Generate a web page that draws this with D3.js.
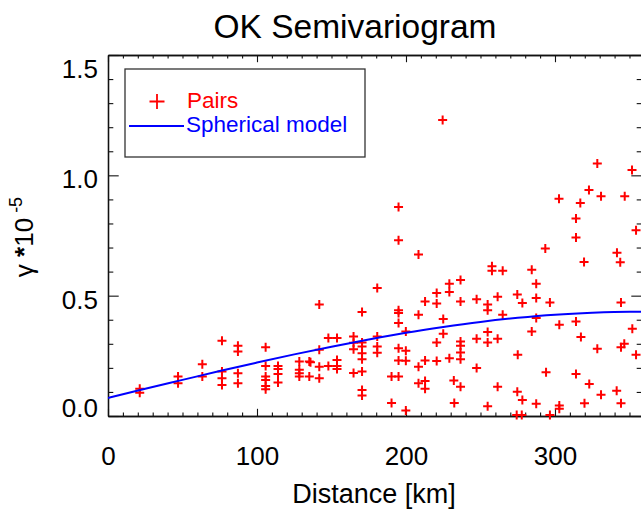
<!DOCTYPE html>
<html>
<head>
<meta charset="utf-8">
<script src="https://cdn.jsdelivr.net/npm/d3@7"></script>
<style>
  html, body { margin: 0; padding: 0; background: #fff; }
  svg { display: block; }
  text { font-family: "Liberation Sans", Arial, Helvetica, sans-serif; }
</style>
</head>
<body>
<svg id="chart" width="641" height="509"></svg>
<script>
// ---------------- data ----------------
const chartTitle = "OK Semivariogram";
const xTitle = "Distance [km]";
const legendLabels = ["Pairs", "Spherical model"];

const xMajorTicks = [0, 100, 200, 300];
const xTickLabels = ["0", "100", "200", "300"];
const xMinorTicks = [10, 20, 30, 40, 50, 60, 70, 80, 90, 110, 120, 130, 140, 150, 160, 170, 180, 190,
                     210, 220, 230, 240, 250, 260, 270, 280, 290, 310, 320, 330, 340, 350];
const yMajorTicks = [0, 0.5, 1.0, 1.5];
const yTickLabels = ["0.0", "0.5", "1.0", "1.5"];
const yMinorTicks = [0.1, 0.2, 0.3, 0.4, 0.6, 0.7, 0.8, 0.9, 1.1, 1.2, 1.3, 1.4];

// Semivariogram pairs (distance km, gamma * 1e5)
const pairDist = [
  21.3, 21.3, 47.0, 47.0, 63.3, 63.3, 76.5, 76.5, 76.5, 76.5,
  87.2, 87.2, 87.2, 87.2, 105.8, 105.8, 105.8, 105.8, 105.8, 105.8,
  114.1, 114.1, 114.1, 114.1, 128.4, 128.4, 128.4, 128.4, 135.1, 135.9,
  135.1, 141.8, 141.8, 141.8, 141.8, 147.9, 147.9, 153.7, 153.7, 153.7,
  153.7, 164.8, 164.8, 164.8, 164.8, 170.5, 170.5, 170.5, 170.5, 170.5,
  170.5, 170.5, 170.5, 180.7, 180.7, 180.7, 180.7, 190.3, 190.3, 195.0,
  195.0, 195.0, 195.0, 195.0, 195.0, 195.0, 195.0, 199.9, 199.9, 199.9,
  199.9, 208.4, 208.4, 208.4, 208.4, 212.8, 212.8, 212.8, 212.8, 220.6,
  220.6, 220.6, 220.6, 224.6, 225.0, 225.0, 229.1, 229.1, 229.1, 232.1,
  232.4, 236.6, 236.6, 236.6, 236.6, 236.6, 236.6, 236.6, 247.4, 247.4,
  247.4, 254.8, 254.8, 254.8, 254.8, 254.8, 257.7, 257.7, 261.5, 261.5,
  261.5, 264.9, 264.9, 274.7, 275.0, 274.7, 274.3, 277.7, 278.1, 278.1,
  284.4, 284.4, 287.4, 287.4, 287.4, 287.4, 293.5, 294.0, 296.6, 296.6,
  302.7, 302.9, 302.9, 302.9, 314.1, 314.1, 314.1, 314.1, 317.0, 317.4,
  319.5, 319.8, 322.8, 323.0, 328.4, 328.4, 330.9, 330.9, 341.6, 341.4,
  343.8, 344.3, 344.3, 344.3, 346.5, 346.8, 351.7, 351.9, 354.4, 354.4
];
const pairGamma = [
  0.113, 0.097, 0.164, 0.136, 0.215, 0.164, 0.313, 0.185, 0.157, 0.129,
  0.292, 0.268, 0.178, 0.136, 0.286, 0.208, 0.164, 0.150, 0.125, 0.111,
  0.208, 0.195, 0.175, 0.139, 0.226, 0.192, 0.178, 0.164, 0.226, 0.223,
  0.164, 0.463, 0.275, 0.205, 0.157, 0.324, 0.208, 0.324, 0.233, 0.208,
  0.195, 0.330, 0.304, 0.277, 0.179, 0.432, 0.305, 0.289, 0.261, 0.236,
  0.185, 0.108, 0.085, 0.532, 0.330, 0.289, 0.263, 0.164, 0.054, 0.868,
  0.730, 0.439, 0.428, 0.386, 0.282, 0.231, 0.164, 0.351, 0.271, 0.230,
  0.023, 0.671, 0.421, 0.205, 0.136, 0.476, 0.231, 0.145, 0.113, 0.511,
  0.467, 0.305, 0.229, 1.230, 0.403, 0.342, 0.550, 0.515, 0.240, 0.147,
  0.054, 0.565, 0.476, 0.310, 0.292, 0.264, 0.236, 0.122, 0.485, 0.321,
  0.199, 0.463, 0.439, 0.349, 0.305, 0.040, 0.622, 0.604, 0.496, 0.321,
  0.122, 0.604, 0.421, 0.505, 0.254, 0.101, 0.004, 0.004, 0.470, 0.067,
  0.608, 0.351, 0.550, 0.490, 0.407, 0.051, 0.696, 0.182, 0.472, 0.004,
  0.903, 0.379, 0.044, 0.030, 0.821, 0.742, 0.393, 0.175, 0.885, 0.328,
  0.640, 0.053, 0.939, 0.133, 1.049, 0.279, 0.913, 0.088, 0.678, 0.105,
  0.639, 0.472, 0.286, 0.053, 0.300, 0.913, 1.022, 0.363, 0.772, 0.254
];

// Spherical model curve
const modelDist  = [0, 25, 50, 75, 100, 125, 150, 175, 200, 225, 250, 275, 300, 325, 350, 360];
const modelGamma = [0.075, 0.113, 0.150, 0.187, 0.222, 0.256, 0.288, 0.318, 0.346, 0.370,
                    0.391, 0.408, 0.421, 0.429, 0.433, 0.433];

// ---------------- layout ----------------
const W = 641, H = 509;
const plotL = 108, plotR = 642, plotT = 55, plotB = 416;
const RED = "#ff0000", BLUE = "#0000ff";

const svg = d3.select("#chart");
svg.append("rect").attr("width", W).attr("height", H).attr("fill", "#fff");

const x = d3.scaleLinear().domain([0, 358.4]).range([plotL, plotR]);
const y = d3.scaleLinear().domain([0, 1.5]).range([plotB, plotT]);

const xMajLen = 7.2, xMinLen = 3.6, yMajLen = 10.7, yMinLen = 5.3;
const axisColor = "#111";

function styleAxis(g) {
  g.selectAll("path.domain").attr("stroke", axisColor).attr("stroke-width", 1.3);
  g.selectAll(".tick line").attr("stroke", axisColor).attr("stroke-width", 1.1);
}

// bottom axis
const gB = svg.append("g").attr("transform", `translate(0,${plotB})`);
gB.call(d3.axisBottom(x).tickValues(xMinorTicks).tickSize(-xMinLen).tickSizeOuter(0).tickFormat(""));
const gBM = svg.append("g").attr("transform", `translate(0,${plotB})`);
gBM.call(d3.axisBottom(x).tickValues(xMajorTicks).tickSize(-xMajLen).tickSizeOuter(0)
  .tickFormat((d, i) => xTickLabels[i]));
gBM.selectAll("text").attr("y", 48.5).attr("dy", null)
  .attr("font-size", 26).attr("fill", "#000").attr("font-family", "Liberation Sans, Arial, sans-serif");
styleAxis(gB); styleAxis(gBM);

// top axis
const gT = svg.append("g").attr("transform", `translate(0,${plotT})`);
gT.call(d3.axisTop(x).tickValues(xMinorTicks).tickSize(-xMinLen).tickSizeOuter(0).tickFormat(""));
const gTM = svg.append("g").attr("transform", `translate(0,${plotT})`);
gTM.call(d3.axisTop(x).tickValues(xMajorTicks).tickSize(-xMajLen).tickSizeOuter(0).tickFormat(""));
styleAxis(gT); styleAxis(gTM);

// left axis
const gL = svg.append("g").attr("transform", `translate(${plotL},0)`);
gL.call(d3.axisLeft(y).tickValues(yMinorTicks).tickSize(-yMinLen).tickSizeOuter(0).tickFormat(""));
const gLM = svg.append("g").attr("transform", `translate(${plotL},0)`);
gLM.call(d3.axisLeft(y).tickValues(yMajorTicks).tickSize(-yMajLen).tickSizeOuter(0)
  .tickFormat((d, i) => yTickLabels[i]).tickPadding(10));
const yLabelShift = [-8.5, 3.5, 3, 13];
gLM.selectAll("text").attr("dy", null)
  .attr("y", (d, i) => yLabelShift[i] + 9.3)
  .attr("font-size", 26).attr("fill", "#000").attr("font-family", "Liberation Sans, Arial, sans-serif");
styleAxis(gL); styleAxis(gLM);

// right axis
const gR = svg.append("g").attr("transform", `translate(${plotR},0)`);
gR.call(d3.axisRight(y).tickValues(yMinorTicks).tickSize(-yMinLen).tickSizeOuter(0).tickFormat(""));
const gRM = svg.append("g").attr("transform", `translate(${plotR},0)`);
gRM.call(d3.axisRight(y).tickValues(yMajorTicks).tickSize(-yMajLen).tickSizeOuter(0).tickFormat(""));
styleAxis(gR); styleAxis(gRM);

// clip for model line
svg.append("clipPath").attr("id", "plotclip").append("rect")
  .attr("x", plotL).attr("y", plotT).attr("width", plotR - plotL).attr("height", plotB - plotT);

// pairs
const plusSmall = "M-4.5,0H4.5M0,-4.5V4.5";
svg.append("g").selectAll("path.pair")
  .data(pairDist.map((d, i) => [d, pairGamma[i]]))
  .join("path")
  .attr("class", "pair")
  .attr("d", plusSmall)
  .attr("transform", d => `translate(${x(d[0])},${y(d[1])})`)
  .attr("stroke", RED).attr("stroke-width", 2).attr("fill", "none");

// model line
const line = d3.line().x(d => x(d[0])).y(d => y(d[1])).curve(d3.curveMonotoneX);
svg.append("path")
  .datum(modelDist.map((d, i) => [d, modelGamma[i]]))
  .attr("d", line)
  .attr("clip-path", "url(#plotclip)")
  .attr("fill", "none").attr("stroke", BLUE).attr("stroke-width", 2);

// legend
const lg = svg.append("g");
lg.append("rect").attr("x", 125).attr("y", 69).attr("width", 240).attr("height", 88)
  .attr("fill", "#fff").attr("stroke", "#333").attr("stroke-width", 1.3);
lg.append("path").attr("d", "M-7.5,0H7.5M0,-7.5V7.5")
  .attr("transform", "translate(157,101.5)")
  .attr("stroke", RED).attr("stroke-width", 1.8).attr("fill", "none");
lg.append("text").attr("x", 187).attr("y", 107.5).attr("font-size", 22.5).attr("fill", RED)
  .text(legendLabels[0]);
lg.append("line").attr("x1", 129).attr("x2", 184).attr("y1", 126).attr("y2", 126)
  .attr("stroke", BLUE).attr("stroke-width", 2);
lg.append("text").attr("x", 186).attr("y", 132).attr("font-size", 22.5).attr("fill", BLUE)
  .text(legendLabels[1]);

// title
svg.append("text").attr("x", 355).attr("y", 38).attr("text-anchor", "middle")
  .attr("font-size", 33.5).attr("fill", "#000").text(chartTitle);

// x axis title
svg.append("text").attr("x", 374).attr("y", 503).attr("text-anchor", "middle")
  .attr("font-size", 27).attr("fill", "#000").text(xTitle);

// y axis title
const yt = svg.append("text").attr("transform", "translate(33,237) rotate(-90)")
  .attr("text-anchor", "middle").attr("font-size", 26).attr("fill", "#000");
yt.append("tspan").text("γ ");
yt.append("tspan").attr("font-weight", "bold").text("*");
yt.append("tspan").text("10");
yt.append("tspan").attr("font-size", 18).attr("dy", -11).text(" -5");
</script>
</body>
</html>
